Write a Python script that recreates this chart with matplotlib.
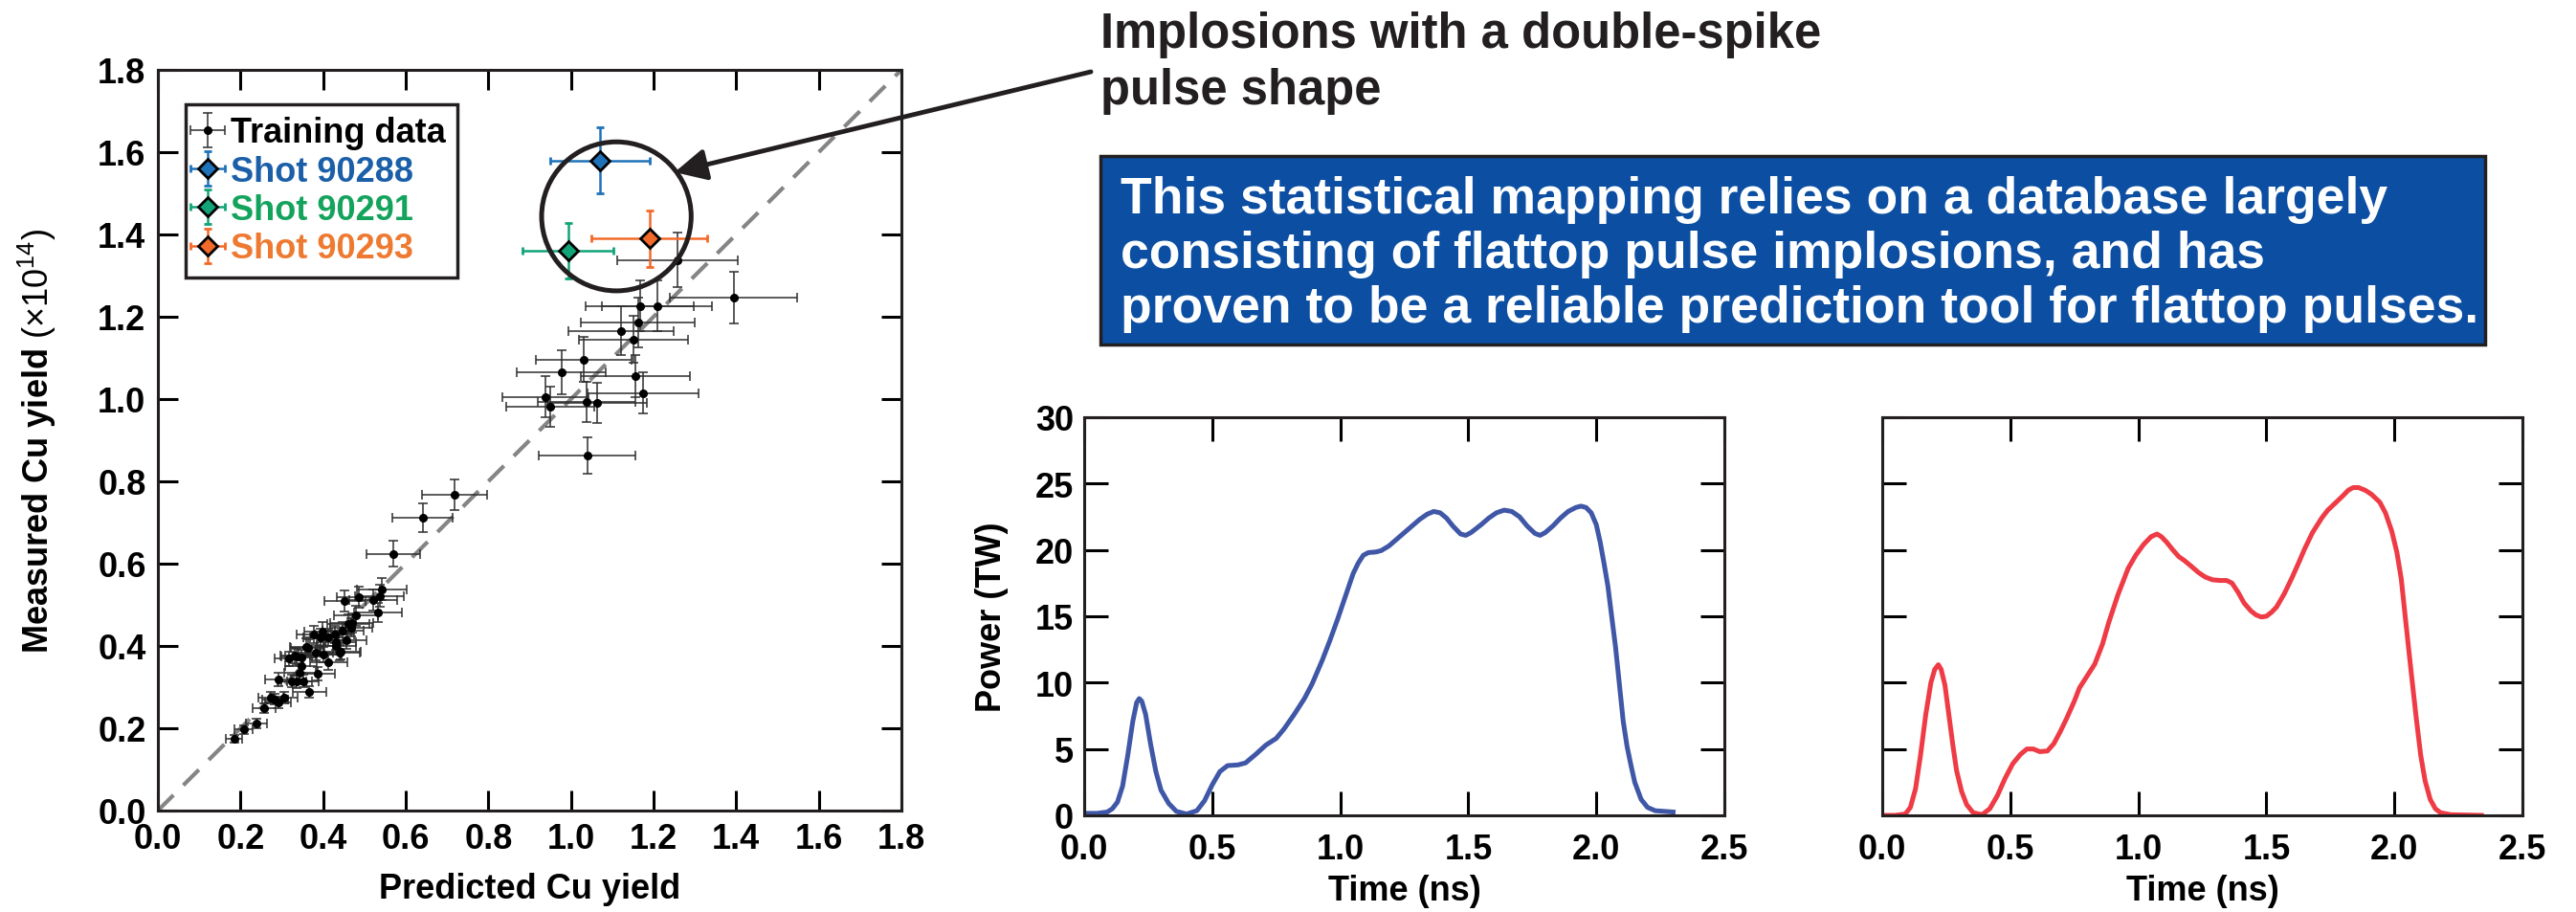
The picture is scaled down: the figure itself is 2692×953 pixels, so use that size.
import matplotlib
matplotlib.use("Agg")
import matplotlib.pyplot as plt
from matplotlib.patches import Circle, Rectangle, FancyArrowPatch
from matplotlib.ticker import FormatStrFormatter, MultipleLocator

plt.rcParams["font.family"] = ["Liberation Sans", "DejaVu Sans"]
plt.rcParams["font.weight"] = "bold"
plt.rcParams["axes.labelweight"] = "bold"
plt.rcParams["mathtext.fontset"] = "custom"
plt.rcParams["mathtext.rm"] = "Liberation Sans:normal"
plt.rcParams["mathtext.bf"] = "Liberation Sans:bold"

# training data (predicted, measured, errors), units of 1e14
train_x = [0.185, 0.208, 0.239, 0.257, 0.274, 0.291, 0.305, 0.283, 0.291, 0.324,
           0.336, 0.351, 0.367, 0.344, 0.347, 0.386, 0.317, 0.332, 0.347, 0.336,
           0.363, 0.382, 0.401, 0.413, 0.378, 0.394, 0.413, 0.428, 0.432, 0.456,
           0.432, 0.442, 0.448, 0.461, 0.467, 0.479, 0.452, 0.486, 0.521, 0.537,
           0.542, 0.533, 0.440, 0.398, 0.470, 0.360, 0.570, 0.641, 0.718,
           0.938, 0.950, 0.977, 1.030, 1.038, 1.063, 1.039, 1.121, 1.152, 1.162,
           1.155, 1.174, 1.167, 1.209, 1.258, 1.394]
train_y = [0.175, 0.197, 0.212, 0.249, 0.274, 0.263, 0.274, 0.270, 0.319, 0.315,
           0.313, 0.315, 0.288, 0.336, 0.352, 0.333, 0.369, 0.377, 0.371, 0.375,
           0.396, 0.383, 0.379, 0.360, 0.429, 0.421, 0.421, 0.429, 0.410, 0.414,
           0.400, 0.387, 0.437, 0.453, 0.445, 0.474, 0.509, 0.519, 0.512, 0.522,
           0.538, 0.481, 0.384, 0.436, 0.456, 0.398, 0.624, 0.711, 0.768,
           1.005, 0.982, 1.065, 1.096, 0.994, 0.991, 0.863, 1.166, 1.145, 1.186,
           1.056, 1.015, 1.226, 1.226, 1.338, 1.247]
train_xerr = [0.020, 0.022, 0.026, 0.028, 0.030, 0.032, 0.033, 0.031, 0.032, 0.035,
              0.037, 0.038, 0.040, 0.038, 0.038, 0.042, 0.035, 0.036, 0.038, 0.037,
              0.040, 0.042, 0.044, 0.045, 0.041, 0.043, 0.045, 0.047, 0.047, 0.050,
              0.047, 0.048, 0.049, 0.051, 0.051, 0.053, 0.050, 0.053, 0.057, 0.059,
              0.060, 0.058, 0.048, 0.044, 0.052, 0.040, 0.065, 0.073, 0.079,
              0.104, 0.107, 0.108, 0.116, 0.118, 0.120, 0.118, 0.128, 0.132, 0.137,
              0.132, 0.135, 0.131, 0.133, 0.146, 0.154]
train_yerr = [0.009, 0.010, 0.011, 0.012, 0.014, 0.013, 0.014, 0.013, 0.016, 0.016,
              0.016, 0.016, 0.014, 0.017, 0.018, 0.017, 0.018, 0.019, 0.019, 0.019,
              0.020, 0.019, 0.019, 0.018, 0.021, 0.021, 0.021, 0.021, 0.020, 0.021,
              0.020, 0.019, 0.022, 0.023, 0.022, 0.024, 0.025, 0.026, 0.026, 0.026,
              0.027, 0.024, 0.019, 0.022, 0.023, 0.020, 0.031, 0.035, 0.037,
              0.050, 0.049, 0.054, 0.054, 0.049, 0.049, 0.044, 0.060, 0.057, 0.060,
              0.052, 0.050, 0.062, 0.062, 0.067, 0.063]

shot_labels = ["Shot 90288", "Shot 90291", "Shot 90293"]
shot_x = [1.070, 0.993, 1.190]
shot_y = [1.580, 1.361, 1.390]
shot_xerr = [0.120, 0.110, 0.140]
shot_yerr = [0.080, 0.068, 0.069]
shot_colors = ["#1f72b8", "#12a478", "#f26a2a"]
shot_text_colors = ["#1b5fa8", "#14a35c", "#ee7a32"]

# pulse shapes
blue_t = [0.00, 0.05, 0.09, 0.11, 0.13, 0.15, 0.17, 0.19, 0.205, 0.215, 0.225, 0.24, 0.26,
          0.28, 0.30, 0.33, 0.36, 0.40, 0.44, 0.47, 0.50, 0.53, 0.56, 0.60, 0.63, 0.67,
          0.71, 0.75, 0.78, 0.82, 0.86, 0.89, 0.93, 0.96, 0.99, 1.02, 1.05, 1.07, 1.09,
          1.11, 1.14, 1.16, 1.19, 1.22, 1.25, 1.28, 1.31, 1.34, 1.365, 1.39, 1.415, 1.44,
          1.47, 1.49, 1.51, 1.55, 1.58, 1.61, 1.64, 1.67, 1.70, 1.73, 1.76, 1.78, 1.80,
          1.83, 1.86, 1.89, 1.92, 1.94, 1.96, 1.98, 2.00, 2.015, 2.03, 2.045, 2.06, 2.075,
          2.09, 2.105, 2.12, 2.135, 2.15, 2.175, 2.20, 2.23, 2.30]
blue_p = [0.15, 0.15, 0.25, 0.5, 1.0, 2.2, 4.5, 7.1, 8.5, 8.8, 8.6, 7.6, 5.3,
          3.3, 1.9, 0.9, 0.3, 0.1, 0.35, 1.1, 2.3, 3.3, 3.75, 3.8, 3.95, 4.6,
          5.3, 5.8, 6.5, 7.6, 8.8, 9.9, 11.7, 13.2, 14.8, 16.5, 18.2, 19.0, 19.6,
          19.8, 19.85, 19.95, 20.3, 20.8, 21.3, 21.8, 22.3, 22.7, 22.9, 22.8, 22.4, 21.8,
          21.2, 21.1, 21.3, 21.9, 22.4, 22.8, 23.0, 22.9, 22.5, 21.8, 21.25, 21.1, 21.3,
          21.8, 22.4, 22.9, 23.2, 23.3, 23.2, 22.8, 21.9, 20.6, 19.0, 17.3, 15.0, 12.7,
          9.9, 7.1, 5.2, 3.8, 2.5, 1.2, 0.6, 0.35, 0.25]

red_t = [0.00, 0.05, 0.09, 0.11, 0.13, 0.15, 0.17, 0.19, 0.205, 0.219, 0.23, 0.245, 0.26,
         0.275, 0.29, 0.31, 0.33, 0.355, 0.39, 0.42, 0.45, 0.48, 0.51, 0.54, 0.565, 0.59,
         0.615, 0.645, 0.67, 0.695, 0.72, 0.75, 0.77, 0.80, 0.83, 0.86, 0.884, 0.92, 0.96,
         0.99, 1.02, 1.05, 1.073, 1.09, 1.11, 1.135, 1.158, 1.18, 1.205, 1.235, 1.262, 1.29,
         1.319, 1.345, 1.366, 1.39, 1.413, 1.44, 1.46, 1.48, 1.50, 1.52, 1.54, 1.57, 1.60,
         1.63, 1.65, 1.68, 1.716, 1.74, 1.773, 1.80, 1.82, 1.839, 1.86, 1.886, 1.91, 1.943,
         1.965, 1.99, 2.01, 2.027, 2.045, 2.065, 2.085, 2.103, 2.12, 2.14, 2.16, 2.18, 2.22,
         2.34]
red_p = [0.0, 0.0, 0.1, 0.6, 2.0, 4.6, 7.6, 10.0, 11.0, 11.35, 11.0, 9.8, 7.6,
         5.4, 3.4, 1.8, 0.8, 0.2, 0.05, 0.5, 1.5, 2.8, 3.9, 4.6, 5.0, 5.0,
         4.8, 4.85, 5.4, 6.3, 7.3, 8.6, 9.6, 10.5, 11.4, 12.9, 14.5, 16.6, 18.6,
         19.6, 20.4, 21.0, 21.2, 21.0, 20.6, 20.0, 19.5, 19.2, 18.8, 18.3, 17.95, 17.75,
         17.7, 17.7, 17.5, 16.8, 16.0, 15.4, 15.1, 14.95, 15.0, 15.3, 15.7, 16.7, 17.9,
         19.2, 20.1, 21.3, 22.4, 23.0, 23.6, 24.1, 24.5, 24.7, 24.7, 24.5, 24.2, 23.6,
         22.8, 21.4, 19.8, 17.8, 14.5, 10.9, 7.4, 4.5, 2.6, 1.2, 0.5, 0.2, 0.05,
         0.0]

banner_lines = ["This statistical mapping relies on a database largely",
                "consisting of flattop pulse implosions, and has",
                "proven to be a reliable prediction tool for flattop pulses."]
title_lines = ["Implosions with a double-spike", "pulse shape"]

W, H = 2692, 954
fig = plt.figure(figsize=(W / 100, H / 100), dpi=100)


def style_axes(a, length, xpad=9, ypad=9):
    a.tick_params(direction="in", length=length, width=2.2, top=True, right=True,
                  labelsize=26)
    a.tick_params(axis="x", pad=xpad)
    a.tick_params(axis="y", pad=ypad)
    for s in a.spines.values():
        s.set_linewidth(2.2)
        s.set_color("#231f20")


# scatter panel
ax = fig.add_axes([165 / W, 1 - 848 / H, 777 / W, 774 / H])
ax.plot([0, 1.8], [0, 1.8], color="#858585", lw=3, dashes=(5.5, 3.5), zorder=1)
ax.errorbar(train_x, train_y, xerr=train_xerr, yerr=train_yerr, fmt="o", ms=5.5,
            color="black", ecolor="#2e2e2e", elinewidth=1.1, capsize=3.5, capthick=1.1,
            label="Training data", zorder=3)
for i in range(len(shot_x)):
    ax.errorbar([shot_x[i]], [shot_y[i]], xerr=[shot_xerr[i]], yerr=[shot_yerr[i]],
                fmt="D", ms=10, mfc=shot_colors[i], mec="black", mew=2,
                ecolor=shot_colors[i], elinewidth=1.8, capsize=3, capthick=1.8,
                label=shot_labels[i], zorder=5)
ax.add_patch(Circle((1.11, 1.444), 0.181, fill=False, lw=3.6, ec="#231f20", zorder=6))
ax.set_xlim(0, 1.8)
ax.set_ylim(0, 1.8)
ax.xaxis.set_major_locator(MultipleLocator(0.2))
ax.yaxis.set_major_locator(MultipleLocator(0.2))
ax.xaxis.set_major_formatter(FormatStrFormatter("%.1f"))
ax.yaxis.set_major_formatter(FormatStrFormatter("%.1f"))
style_axes(ax, 15)
ax.set_xlabel("Predicted Cu yield", fontsize=26, labelpad=12)
ax.set_ylabel(r"Measured Cu yield $\mathrm{(\times 10^{14})}$", fontsize=26)
ax.yaxis.set_label_coords(-0.134, 0.5)

leg = ax.legend(loc="upper left", bbox_to_anchor=(0.037, 0.954), borderaxespad=0,
                fancybox=False, edgecolor="#231f20", fontsize=26, handlelength=0.6,
                handletextpad=0.35, labelspacing=0.15, borderpad=0.35, framealpha=1)
leg.get_frame().set_linewidth(2.5)
for t, c in zip(leg.get_texts(), ["black"] + shot_text_colors):
    t.set_color(c)

# pulse panels
ax2 = fig.add_axes([1133 / W, 1 - 853 / H, 669 / W, 416 / H])
ax3 = fig.add_axes([1967 / W, 1 - 853 / H, 669 / W, 416 / H])
ax2.plot(blue_t, blue_p, color="#3f57a6", lw=3.6)
ax3.plot(red_t, red_p, color="#ee3b45", lw=3.6)
for a in (ax2, ax3):
    a.set_xlim(0, 2.5)
    a.set_ylim(0, 30)
    a.xaxis.set_major_locator(MultipleLocator(0.5))
    a.yaxis.set_major_locator(MultipleLocator(5))
    a.xaxis.set_major_formatter(FormatStrFormatter("%.1f"))
    style_axes(a, 18, xpad=13, ypad=8)
    a.set_xlabel("Time (ns)", fontsize=26, labelpad=6)
ax2.set_ylabel("Power (TW)", fontsize=26)
ax2.yaxis.set_label_coords(-0.118, 0.5)
ax3.tick_params(labelleft=False)

# banner and annotation
fig.add_artist(Rectangle((1150 / W, 1 - 361 / H), 1447 / W, 197 / H,
                         transform=fig.transFigure, fc="#0b4ea2", ec="#231f20", lw=2.5))
for i, line in enumerate(banner_lines):
    fig.text(1171 / W, 1 - (223 + 57 * i) / H, line, color="white", fontsize=38.5,
             ha="left", va="baseline")
for i, line in enumerate(title_lines):
    fig.text(1150 / W, 1 - (50 + 59 * i) / H, line, color="#231f20", fontsize=36.5,
             ha="left", va="baseline")
fig.add_artist(FancyArrowPatch((1140 / W, 1 - 76 / H), (705 / W, 1 - 181 / H),
                               transform=fig.transFigure,
                               arrowstyle="-|>,head_length=1.0,head_width=0.5",
                               mutation_scale=20, lw=3.5, color="#231f20",
                               shrinkA=0, shrinkB=0))

fig.savefig("out.png", dpi=100)
